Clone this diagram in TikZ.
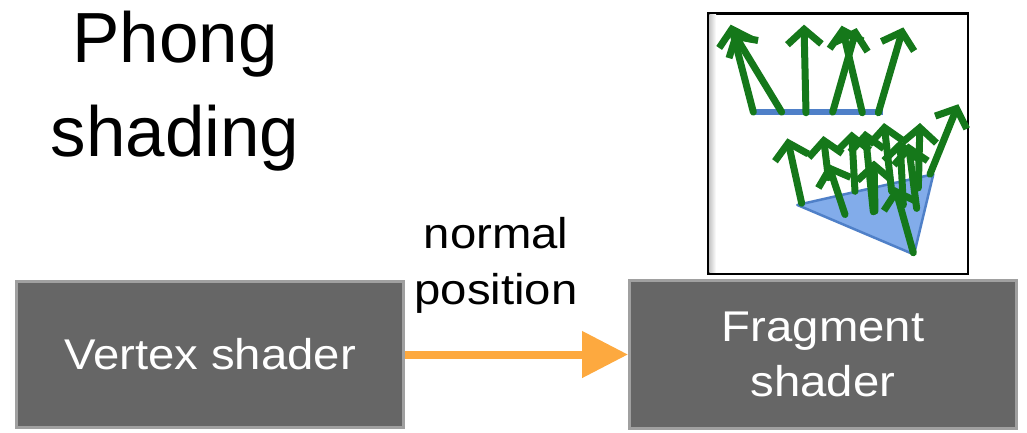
\documentclass[tikz,border=0pt]{standalone}
\usepackage{fontspec}
\setmainfont{Liberation Sans}
\newfontfamily\widesans[FakeStretch=1.1]{Liberation Sans}
\usetikzlibrary{arrows.meta}

\definecolor{boxfill}{HTML}{666666}
\definecolor{boxedge}{HTML}{A0A0A0}
\definecolor{flow}{HTML}{FDA93F}
\definecolor{normalgreen}{HTML}{15781A}
\definecolor{facetblue}{HTML}{4F80C8}
\definecolor{facetlight}{HTML}{82ACEA}

\begin{document}
\begin{tikzpicture}[x=1pt,y=-1pt,
  shaderbox/.style={draw=boxedge, line width=3pt, fill=boxfill, text=white,
    inner sep=0pt, align=center, font=\widesans\fontsize{43}{55}\selectfont},
  titletext/.style={align=center, inner sep=0pt, font=\fontsize{71}{94}\selectfont},
  labeltext/.style={align=center, inner sep=0pt, font=\widesans\fontsize{43}{56}\selectfont},
  flowarrow/.style={draw=flow, line width=8pt, -{Triangle[length=46pt,width=45pt]}, flow},
  frame/.style={draw=black, line width=2.5pt, fill=white, inner sep=0pt},
  normalvec/.style={draw=normalgreen, line width=7pt, line cap=round,
    -{Straight Barb[length=15pt,width=34pt]}},
  facet/.style={fill=facetlight, draw=facetblue, line width=2.5pt, line join=round}]

\useasboundingbox (0,0) rectangle (1027,432);

% title
\node[titletext] (title) at (175,91.5) {Phong\\shading};

% the two pipeline stages
\node[shaderbox, minimum width=387pt, minimum height=146pt] (vs) at (210,354.5) {Vertex shader};
\node[shaderbox, minimum width=387pt, minimum height=148pt] (fs) at (823,354.5) {Fragment\\shader};

% interpolated attributes passed between the stages
\draw[flowarrow] (vs.east) -- (fs.west);
\node[labeltext] (attr) at (496,265) {normal\\position};

% illustration: per-fragment normals
\node[frame, minimum width=259.5pt, minimum height=260.5pt] (pic) at (838,143.5) {};
\shade[left color=black!22, right color=white] (709.3,14.3) rectangle (716,272.7);

\begin{scope}[shift={(700,0.05)}, x=0.3333pt, y=-0.3415pt]
  % flat edge with its normals
  \fill[facetblue] (155,318) rectangle (548,338);
  \draw[normalvec] (160,328) -- (92,72);
  \draw[normalvec] (245,328) -- (100,95);
  \draw[normalvec] (318,330) -- (312,72);
  \draw[normalvec] (398,328) -- (470,82);
  \draw[normalvec] (487,330) -- (425,75);
  \draw[normalvec] (535,330) -- (610,80);

  % triangle with interpolated normals
  \filldraw[facet] (292,600) -- (700,510) -- (642,745) -- cycle;
  \draw[normalvec] (305,595) -- (262,405);
  \draw[normalvec] (385,520) -- (370,398);
  \draw[normalvec] (435,628) -- (385,480);
  \draw[normalvec] (465,560) -- (455,385);
  \draw[normalvec] (520,620) -- (495,383);
  \draw[normalvec] (525,618) -- (522,470);
  \draw[normalvec] (575,560) -- (552,360);
  \draw[normalvec] (610,600) -- (600,410);
  \draw[normalvec] (650,610) -- (625,420);
  \draw[normalvec] (655,550) -- (660,360);
  \draw[normalvec] (690,510) -- (775,305);
  \draw[normalvec] (640,740) -- (585,548);
\end{scope}
\end{tikzpicture}
\end{document}
